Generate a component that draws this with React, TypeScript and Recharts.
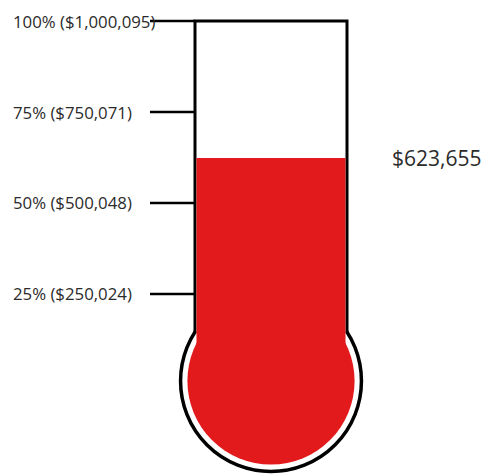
import { ComposedChart, Bar, XAxis, YAxis } from 'recharts'

// fundraising thermometer
const categories = ['Raised']
const raised = [623655]
const goal = 1000095
const tickPercents = [25, 50, 75, 100]
const tickValues = [250024, 500048, 750071, 1000095]

const RED = '#e31a1c'
const FONT = '"Open Sans", "Noto Sans", sans-serif'

const data = categories.map((name, i) => ({ name, value: raised[i] }))

const money = (v: number) => '$' + v.toLocaleString('en-US')

function Thermometer(props: any) {
  const { x, y, width, height, value } = props
  const base = y + height
  // top of the tube = goal on the same scale as the bar
  const top = base - (height * goal) / value
  const cx = x + width / 2
  const cy = base - 4
  const ringR = width * 0.595
  const bulbR = width * 0.55
  const wallBottom = cy - Math.sqrt(ringR * ringR - (width / 2) * (width / 2))
  return (
    <g>
      <circle cx={cx} cy={cy} r={ringR} fill="#fff" stroke="#000" strokeWidth={3.5} />
      <path
        d={`M${x},${wallBottom} L${x},${top} L${x + width},${top} L${x + width},${wallBottom}`}
        fill="#fff"
        stroke="#000"
        strokeWidth={3}
      />
      <rect x={x + 1.5} y={y} width={width - 3} height={height} fill={RED} />
      <circle cx={cx} cy={cy} r={bulbR} fill={RED} />
      <text
        x={x + width + 45}
        y={y}
        dominantBaseline="central"
        fontSize={21}
        fill="#2b2b2b"
        fontFamily={FONT}
      >
        {money(value)}
      </text>
    </g>
  )
}

function TickLabel(props: any) {
  const { y, payload } = props
  const i = tickValues.indexOf(payload.value)
  return (
    <text x={13} y={y} dominantBaseline="central" fontSize={16.8} fill="#2b2b2b" fontFamily={FONT}>
      {`${tickPercents[i]}% (${money(tickValues[i])})`}
    </text>
  )
}

export default function App() {
  return (
    <div style={{ position: 'absolute', left: 0, top: 0, background: '#fff' }}>
      <ComposedChart
        width={485}
        height={474}
        data={data}
        margin={{ top: 21, right: 138, bottom: 89, left: 0 }}
        barCategoryGap={0}
      >
        <XAxis dataKey="name" hide />
        <YAxis
          domain={[0, goal]}
          ticks={tickValues}
          width={195}
          tickSize={45}
          axisLine={false}
          tickLine={{ stroke: '#000', strokeWidth: 2.5 }}
          tick={<TickLabel />}
        />
        <Bar dataKey="value" shape={<Thermometer />} isAnimationActive={false} />
      </ComposedChart>
    </div>
  )
}
